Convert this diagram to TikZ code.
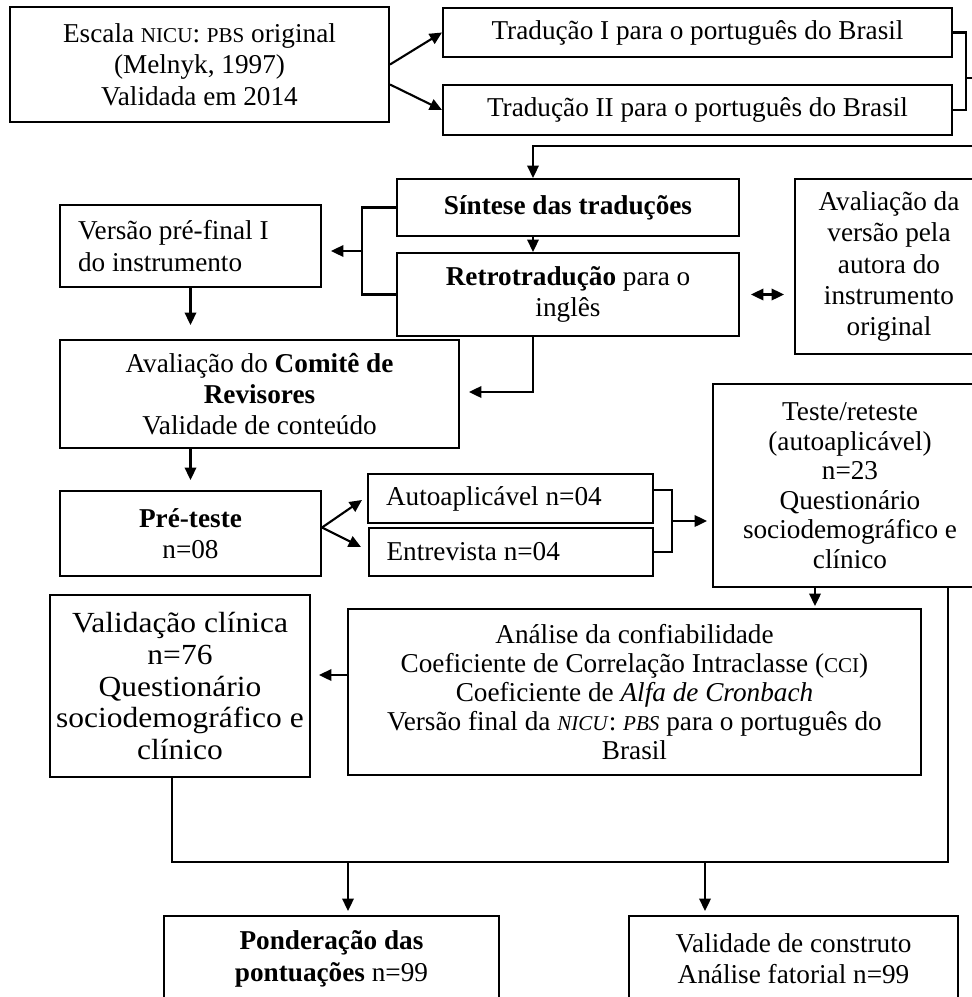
\documentclass[tikz,border=0pt]{standalone}
\usepackage{fontspec}
\setmainfont{Liberation Serif}
\newfontfamily\largafont[FakeStretch=1.08]{Liberation Serif}
\usetikzlibrary{arrows.meta,calc}

\newcommand{\pc}[1]{{\fontsize{12}{14}\selectfont #1}}
\newcommand{\espnormal}{\spaceskip=0pt\xspaceskip=0pt\relax}

\tikzset{
  caixa/.style={draw, line width=1.2pt, align=center, inner sep=0pt},
  linha/.style={line width=1.2pt},
  seta/.style={line width=1.2pt, -{Triangle[length=7pt,width=6.5pt]}},
  dupla/.style={line width=1.2pt, {Triangle[length=7pt,width=6.5pt]}-{Triangle[length=7pt,width=6.5pt]}},
}

\begin{document}
\begin{tikzpicture}[x=0.02cm, y=-0.02cm, every node/.style={font=\fontsize{15.5}{17.8}\selectfont}]
  \useasboundingbox (0,0) rectangle (972,997);
  \clip (0,0) rectangle (972,997);
  % caixas
  \node[caixa, minimum width=7.58cm, minimum height=2.30cm] (escala) at (199.5,64.5)
    {Escala \pc{NICU}: \pc{PBS} original\\(Melnyk, 1997)\\Validada em 2014};
  \node[caixa, minimum width=10.18cm, minimum height=0.98cm] (tradI) at (697.5,32.5)
    {Tradução I para o português do Brasil};
  \node[caixa, minimum width=10.18cm, minimum height=1.00cm] (tradII) at (697.5,110)
    {Tradução II para o português do Brasil};
  \node[caixa, minimum width=6.84cm, minimum height=1.14cm] (sintese) at (568,207.5)
    {\textbf{Síntese das traduções}};
  \node[caixa, minimum width=6.84cm, minimum height=1.66cm] (retro) at (568,294.5)
    {\textbf{Retrotradução} para o\\inglês};
  \node[caixa, minimum width=5.22cm, minimum height=1.64cm, align=left, text width=4.5cm] (prefinal) at (190.5,246)
    {\espnormal Versão pré-final I\\do instrumento};
  \node[caixa, minimum width=3.76cm, minimum height=3.50cm] (autora) at (889,266.5)
    {Avaliação da\\versão pela\\autora do\\instrumento\\original};
  \node[caixa, minimum width=7.98cm, minimum height=2.16cm] (comite) at (259.5,394)
    {Avaliação do \textbf{Comitê de}\\\textbf{Revisores}\\Validade de conteúdo};
  \node[caixa, minimum width=5.22cm, minimum height=1.70cm] (preteste) at (190.5,533.5)
    {\textbf{Pré-teste}\\n=08};
  \node[caixa, minimum width=5.70cm, minimum height=0.98cm, align=left, text width=4.98cm] (autoapl) at (510.5,498.5)
    {\espnormal Autoaplicável n=04};
  \node[caixa, minimum width=5.68cm, minimum height=0.96cm, align=left, text width=4.98cm] (entrev) at (511,552)
    {\espnormal Entrevista n=04};
  \node[caixa, minimum width=5.48cm, minimum height=4.06cm, font=\fontsize{15.5}{16.8}\selectfont] (teste) at (850,485.5)
    {Teste/reteste\\(autoaplicável)\\n=23\\Questionário\\sociodemográfico e\\clínico};
  \node[caixa, minimum width=5.20cm, minimum height=3.64cm, font=\largafont\fontsize{16.6}{18.2}\selectfont] (clinica) at (180,686)
    {Validação clínica\\n=76\\Questionário\\sociodemográfico e\\clínico};
  \node[caixa, minimum width=11.46cm, minimum height=3.32cm, font=\fontsize{15.5}{16.6}\selectfont] (analise) at (634.5,692)
    {Análise da confiabilidade\\Coeficiente de Correlação Intraclasse (\pc{CCI})\\Coeficiente de \textit{Alfa de Cronbach}\\Versão final da \textit{\pc{NICU}}: \textit{\pc{PBS}} para o português do\\Brasil};
  \node[caixa, minimum width=6.70cm, minimum height=1.72cm] (ponder) at (331.5,959)
    {\textbf{Ponderação das}\\\textbf{pontuações} n=99};
  \node[caixa, minimum width=6.58cm, minimum height=1.72cm] (construto) at (793.5,959)
    {Validade de construto\\Análise fatorial n=99};
  % traducoes
  \draw[seta] (escala.east) -- (tradI.west);
  \draw[seta] ($(escala.east)+(0,20)$) -- (tradII.west);
  \draw[linha] (tradI.east) -- ++(13,0) |- (tradII.east);
  \coordinate (tj) at (965,78);
  \draw[seta] (tj) -- (990,78) |- ($(sintese.north)+(-35,-32)$) -- ($(sintese.north)+(-35,0)$);
  \draw[seta] ($(sintese.south)+(-35,0)$) -- ($(retro.north)+(-35,0)$);
  % versao pre-final
  \draw[linha] (sintese.west) -- ++(-34,0) |- (retro.west);
  \coordinate (bl) at (363,251);
  \draw[seta] (bl) -- ($(prefinal.east |- bl)+(9,0)$);
  \draw[seta] (prefinal.south) -- ($(prefinal.south |- comite.north)+(0,-14)$);
  \draw[seta] ($(retro.south)+(-35,0)$) |- ($(comite.east)+(9,-2)$);
  \draw[dupla] ($(retro.east)+(11,0)$) -- ($(retro.east -| autora.west)+(-10,0)$);
  % pre-teste
  \draw[seta] (preteste.north |- comite.south) -- ($(preteste.north)+(0,-10)$);
  \draw[seta] ($(preteste.east)+(0,-6)$) -- ($(autoapl.west)+(-5,1.5)$);
  \draw[seta] ($(preteste.east)+(0,-6)$) -- ($(entrev.west)+(-7,-5)$);
  \draw[linha] ($(autoapl.east)+(0,-8.5)$) -- ++(18,0) |- (entrev.east);
  \coordinate (ba) at (671,521);
  \draw[seta] (ba) -- ($(ba -| teste.west)+(-5,0)$);
  % confiabilidade
  \draw[seta] ($(teste.south)+(-35,0)$) -- ($(teste.south |- analise.north)+(-35,-2)$);
  \draw[seta] ($(analise.west)+(0,-17)$) -- ($(clinica.east |- analise.west)+(8,-17)$);
  % juncao final
  \coordinate (jb) at (560,862);
  \draw[linha] ($(clinica.south)+(-8,0)$) |- (jb) -| ($(teste.south)+(98,0)$);
  \draw[seta] ($(ponder.north |- jb)+(16.5,0)$) -- ($(ponder.north)+(16.5,-4)$);
  \draw[seta] ($(construto.north |- jb)+(-88.5,0)$) -- ($(construto.north)+(-88.5,-4)$);
\end{tikzpicture}
\end{document}
